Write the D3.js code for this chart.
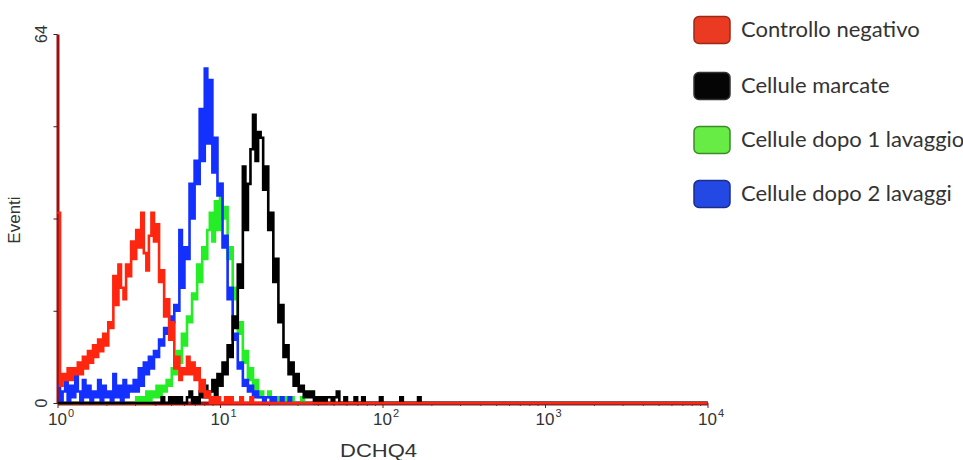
<!DOCTYPE html>
<html>
<head>
<meta charset="utf-8">
<style>
body { margin: 0; background: #fff; }
svg text { font-family: "Liberation Sans", Arial, sans-serif; fill: #333; }
.legend text { font-family: Lato, sans-serif; font-size: 22px; fill: #333; }
</style>
</head>
<body>

<div id="diagram"></div>

<script src="https://d3js.org/d3.v7.min.js"></script>
<script>

var canvas_size = { width: 963, height: 460 };
var plot = { left: 57.5, right: 707.5, top: 34, bottom: 403 };

var channels = 256;
var channels_per_decade = 64;

var x_decades = [ 1, 10, 100, 1000, 10000 ];
var x_exponents = [ '0', '1', '2', '3', '4' ];
var y_ticks = [ 0, 16, 32, 48, 64 ];
var y_labels = [ 0, 64 ];

var series_names = [ 'Controllo negativo', 'Cellule marcate', 'Cellule dopo 1 lavaggio', 'Cellule dopo 2 lavaggi' ];
var series_colors = [ '#ff2610', '#000000', '#26ee26', '#1430ff' ];
var legend_fill = [ '#ea3b22', '#050505', '#66ec44', '#2448e4' ];
var legend_edge = [ '#9a2a18', '#333333', '#3c8a2c', '#1c2c8c' ];

// events per channel (256 channels over 4 decades), starting at *_start
var red_start = 0;
var red_counts = [
	33, 3, 5, 4, 6, 4, 6, 5, 7, 5,
	8, 6, 9, 7, 10, 8, 11, 9, 12, 10,
	14, 13, 22, 17, 24, 20, 18, 24, 22, 28,
	25, 30, 27, 33, 26, 23, 29, 33, 28, 31,
	21, 23, 15, 18, 11, 14, 6, 8, 4, 6,
	5, 8, 5, 7, 4, 6, 2, 4, 1, 2,
	0, 1, 0, 1, 0, 0, 1, 0, 1, 0,
	0, 0, 1, 0, 0, 0, 1 ];

var black_start = 40;
var black_counts = [
	0, 1, 0, 0, 1, 0, 1, 0, 1, 0,
	0, 1, 2, 0, 1, 0, 2, 1, 3, 1,
	2, 4, 1, 5, 3, 7, 5, 10, 8, 15,
	13, 24, 20, 41, 30, 38, 44, 50, 42, 47,
	46, 37, 41, 30, 33, 21, 25, 14, 17, 8,
	10, 5, 7, 3, 5, 2, 3, 1, 2, 1,
	2, 0, 1, 0, 1, 0, 1, 1, 0, 1,
	2, 0, 0, 1, 0, 0, 0, 1, 0, 0,
	1, 0, 0, 0, 0, 0, 0, 1, 0, 0,
	0, 0, 0, 0, 0, 1, 0, 0, 0, 0,
	0, 0, 1 ];

var green_start = 30;
var green_counts = [
	0, 1, 0, 1, 0, 2, 0, 2, 1, 3,
	1, 3, 2, 4, 3, 6, 5, 9, 7, 12,
	10, 15, 14, 19, 18, 24, 21, 27, 25, 30,
	33, 28, 35, 30, 38, 32, 34, 25, 27, 18,
	20, 12, 14, 7, 9, 4, 6, 2, 4, 1,
	2, 1, 1, 2, 0, 1, 0, 1, 0, 1,
	0, 0, 1, 0, 0, 0, 1, 0, 0, 0,
	0, 0, 1 ];

var blue_start = 0;
var blue_counts = [
	3, 0, 2, 4, 0, 3, 1, 5, 2, 0,
	4, 1, 3, 0, 2, 1, 4, 0, 3, 1,
	2, 0, 5, 1, 3, 0, 4, 1, 3, 2,
	4, 2, 6, 3, 7, 5, 8, 6, 9, 8,
	11, 10, 13, 12, 15, 14, 17, 16, 30, 20,
	27, 25, 38, 32, 42, 38, 51, 42, 58, 45,
	56, 40, 46, 36, 38, 27, 29, 18, 20, 11,
	12, 6, 7, 3, 4, 2, 3, 1, 2, 1,
	1, 0, 1, 1, 0, 1, 0, 0, 1, 0,
	0, 1 ];

var svg = null;
var x = null;
var y = null;


window.onload = function()
{
	svg = d3.select( '#diagram' )
		.append( 'svg' )
			.attr( 'width', canvas_size.width )
			.attr( 'height', canvas_size.height );

	svg.append( 'rect' )
		.attr( 'width', canvas_size.width )
		.attr( 'height', canvas_size.height )
		.attr( 'fill', '#fff' );

	x = d3.scaleLog()
		.domain( [ 1, 10000 ] )
		.range( [ plot.left, plot.right ] );

	y = d3.scaleLinear()
		.domain( [ 0, 64 ] )
		.range( [ plot.bottom, plot.top ] );

	draw_axes();
	draw_histograms();
	draw_legend();
}


function expand( start, counts )
{
	var full = [];
	for( var ch = 0; ch < channels; ch++ )
	{
		var i = ch - start;
		full.push( { ch: ch, v: ( i >= 0 && i < counts.length ) ? counts[i] : 0 } );
	}
	full.push( { ch: channels, v: full[channels-1].v } );
	return full;
}


function draw_axes()
{
	var minor = [];
	x_decades.slice( 0, 4 ).forEach( function( d )
	{
		for( var m = 2; m < 10; m++ ) minor.push( d * m );
	});

	var minor_axis = svg.append( 'g' )
		.attr( 'transform', 'translate(0,' + plot.bottom + ')' )
		.call( d3.axisBottom( x ).tickValues( minor ).tickSize( 3 ).tickSizeOuter( 0 ).tickFormat( '' ) );
	minor_axis.select( '.domain' ).remove();
	minor_axis.selectAll( 'line' ).attr( 'stroke', '#8a1a1a' );

	var x_axis = svg.append( 'g' )
		.attr( 'transform', 'translate(0,' + plot.bottom + ')' )
		.call( d3.axisBottom( x ).tickValues( x_decades ).tickSize( 5 ).tickSizeOuter( 0 ).tickFormat( '' ) );
	x_axis.select( '.domain' ).attr( 'stroke', '#a51515' ).attr( 'stroke-width', 4 );
	x_axis.selectAll( 'line' ).attr( 'stroke', '#7a1212' );

	x_decades.forEach( function( d, i )
	{
		var t = svg.append( 'text' )
			.attr( 'x', x( d ) - 9.5 )
			.attr( 'y', 425 )
			.style( 'font-size', '17px' )
			.text( '10' );
		t.append( 'tspan' )
			.attr( 'dy', -8 )
			.attr( 'dx', 1 )
			.style( 'font-size', '11px' )
			.text( x_exponents[i] );
	});

	var y_axis = svg.append( 'g' )
		.attr( 'transform', 'translate(' + plot.left + ',0)' )
		.call( d3.axisLeft( y ).tickValues( y_ticks ).tickSize( 4 ).tickSizeOuter( 0 ).tickFormat( '' ) );
	y_axis.select( '.domain' ).attr( 'stroke', '#9b1010' ).attr( 'stroke-width', 3 );
	y_axis.selectAll( 'line' ).attr( 'stroke', '#551010' );

	y_labels.forEach( function( v )
	{
		svg.append( 'text' )
			.attr( 'transform', 'translate(47,' + y( v ) + ') rotate(-90)' )
			.attr( 'text-anchor', 'middle' )
			.style( 'font-size', '16px' )
			.text( v );
	});

	svg.append( 'text' )
		.attr( 'transform', 'translate(20,220) rotate(-90)' )
		.attr( 'text-anchor', 'middle' )
		.style( 'font-size', '17px' )
		.text( 'Eventi' );

	svg.append( 'text' )
		.attr( 'x', 340 )
		.attr( 'y', 457 )
		.attr( 'textLength', 77 )
		.attr( 'lengthAdjust', 'spacingAndGlyphs' )
		.style( 'font-size', '19px' )
		.text( 'DCHQ4' );
}


function draw_histograms()
{
	var line = d3.line()
		.x( function( d ) { return x( Math.pow( 10, d.ch / channels_per_decade ) ); } )
		.y( function( d ) { return y( d.v ); } )
		.curve( d3.curveStepAfter );

	var data = [
		expand( red_start, red_counts ),
		expand( black_start, black_counts ),
		expand( green_start, green_counts ),
		expand( blue_start, blue_counts ) ];

	// green below blue, then black, red on top
	[ 2, 3, 1, 0 ].forEach( function( i )
	{
		svg.append( 'path' )
			.attr( 'd', line( data[i] ) )
			.attr( 'fill', 'none' )
			.attr( 'stroke', series_colors[i] )
			.attr( 'stroke-width', 2.6 )
			.attr( 'stroke-linejoin', 'miter' );
	});
}


function draw_legend()
{
	var rows = [ 30, 86, 140, 194 ];

	var g = svg.append( 'g' ).attr( 'class', 'legend' );

	series_names.forEach( function( name, i )
	{
		g.append( 'rect' )
			.attr( 'x', 694 )
			.attr( 'y', rows[i] - 13.5 )
			.attr( 'width', 36 )
			.attr( 'height', 27 )
			.attr( 'rx', 5 )
			.attr( 'fill', legend_fill[i] )
			.attr( 'stroke', legend_edge[i] )
			.attr( 'stroke-width', 1.5 );

		g.append( 'text' )
			.attr( 'x', 741 )
			.attr( 'y', rows[i] + 7 )
			.text( name );
	});
}

</script>

</body>
</html>
